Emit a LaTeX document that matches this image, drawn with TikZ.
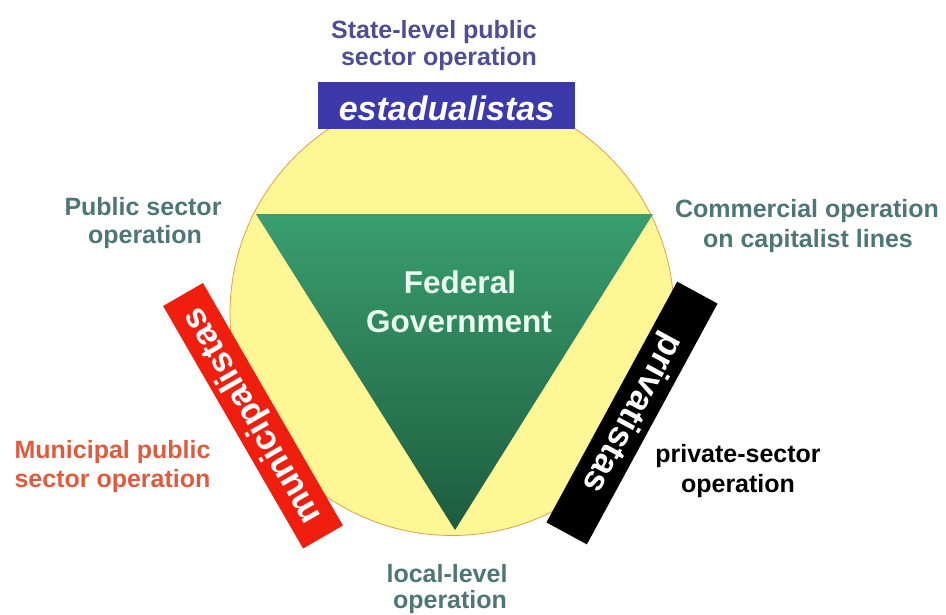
\documentclass[tikz,border=0pt]{standalone}
\usepackage{fontspec}
\setmainfont{Liberation Sans}
\definecolor{yellowc}{RGB}{255,246,150}
\definecolor{circborder}{RGB}{225,160,70}
\definecolor{tritop}{RGB}{58,158,112}
\definecolor{tribot}{RGB}{28,92,62}
\definecolor{bluebox}{RGB}{60,58,170}
\definecolor{statec}{RGB}{78,78,150}
\definecolor{tealc}{RGB}{78,118,118}
\definecolor{munic}{RGB}{222,92,62}
\definecolor{barred}{RGB}{240,30,15}
\definecolor{fedc}{RGB}{235,255,240}
\begin{document}
\begin{tikzpicture}[x=1pt,y=-1pt,
  lbl/.style={anchor=base, inner sep=0pt, font=\fontsize{25}{28}\selectfont\bfseries},
  fedlbl/.style={anchor=base, inner sep=0pt, text=fedc, font=\fontsize{31.5}{36}\selectfont\bfseries},
  barbox/.style={inner sep=0pt, minimum height=46pt, text=white, font=\fontsize{35}{40}\selectfont\bfseries}]
\useasboundingbox (0,0) rectangle (946,614);
\fill[white] (0,0) rectangle (946,614);
% circle
\node (circ) [circle, fill=yellowc, draw=circborder, line width=0.8pt, minimum size=444pt, inner sep=0pt] at (452,313.5) {};
% triangle
\coordinate (tl) at (256,214);
\coordinate (tr) at (653,214);
\coordinate (tb) at (455,530);
\shade[top color=tritop, bottom color=tribot] (tl) -- (tr) -- (tb) -- cycle;
% top box
\node (est) [fill=bluebox, inner sep=0pt, minimum width=257pt, minimum height=47pt, text height=29pt, text depth=0pt, text=white, font=\fontsize{34}{38}\selectfont\bfseries\itshape] at (446.5,105.5) {estadualistas};
% bars
\node (muni) [barbox, fill=barred, rotate=120, minimum width=280pt] at (253,415.75) {municipalistas};
\node (priv) [barbox, fill=black, rotate=-118.5, minimum width=274pt] at (632,413) {privatistas};
% federal
\node (fed1) [fedlbl] at (460,293) {Federal};
\node (fed2) [fedlbl] at (459,332) {Government};
% labels
\node (st1) [lbl, text=statec] at (434,38) {State-level public};
\node (st2) [lbl, text=statec] at (439,65) {sector operation};
\node (pu1) [lbl, text=tealc] at (143,215) {Public sector};
\node (pu2) [lbl, text=tealc] at (145,243) {operation};
\node (co1) [lbl, text=tealc] at (807,217) {Commercial operation};
\node (co2) [lbl, text=tealc] at (808,247) {on capitalist lines};
\node (mu1) [lbl, text=munic] at (112.5,458) {Municipal public};
\node (mu2) [lbl, text=munic] at (112.5,487) {sector operation};
\node (pr1) [lbl, text=black] at (738,462) {private-sector};
\node (pr2) [lbl, text=black] at (738,492) {operation};
\node (lo1) [lbl, text=tealc] at (447,582) {local-level};
\node (lo2) [lbl, text=tealc] at (450,608) {operation};
\end{tikzpicture}
\end{document}
